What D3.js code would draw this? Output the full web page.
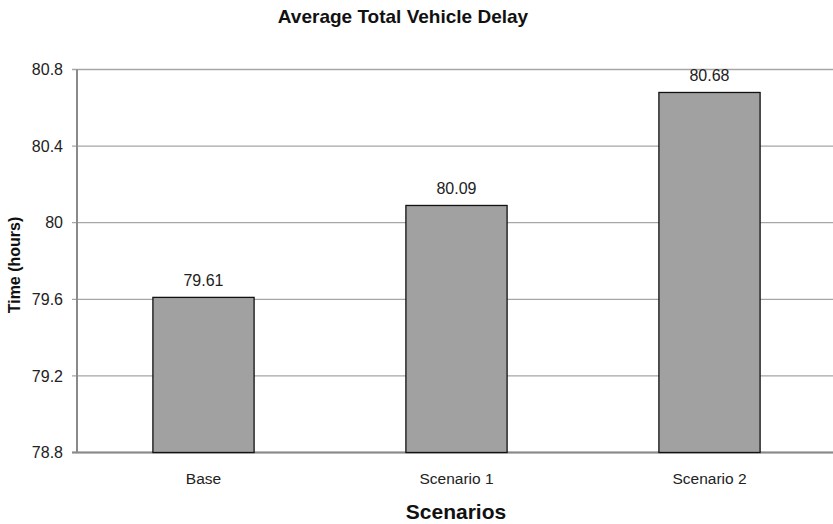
<!DOCTYPE html>
<html><head><meta charset="utf-8">
<script src="https://cdn.jsdelivr.net/npm/d3@7"></script>
<style>body{margin:0;background:#fff}svg{display:block}text{font-family:"Liberation Sans",Arial,sans-serif}</style>
</head><body>
<svg id="c" width="833" height="524"></svg>
<script>
const categories = ["Base", "Scenario 1", "Scenario 2"];
const values = [79.61, 80.09, 80.68];
const yTicks = [78.8, 79.2, 79.6, 80, 80.4, 80.8];
const yTickLabels = ["78.8", "79.2", "79.6", "80", "80.4", "80.8"];

(function () {
const svg = d3.select("#c");
const pLeft = 77, pRight = 836, pTop = 69.5, pBottom = 452.5;
const x = d3.scaleBand().domain(categories).range([pLeft, pRight]).padding(0);
const y = d3.scaleLinear().domain([78.8, 80.8]).range([pBottom, pTop]);

svg.append("g").selectAll("line").data(yTicks).join("line")
  .attr("x1", pLeft - 5).attr("x2", 833)
  .attr("y1", d => y(d)).attr("y2", d => y(d))
  .attr("stroke", "#a6a6a6").attr("stroke-width", 1.3);

svg.append("line").attr("x1", pLeft).attr("x2", pLeft).attr("y1", pTop).attr("y2", pBottom)
  .attr("stroke", "#8a8a8a").attr("stroke-width", 2);
svg.append("line").attr("x1", pLeft - 5).attr("x2", 833).attr("y1", pBottom).attr("y2", pBottom)
  .attr("stroke", "#8a8a8a").attr("stroke-width", 2);

svg.append("g").selectAll("text").data(yTicks).join("text")
  .attr("x", 63).attr("y", d => y(d)).attr("dy", "0.35em")
  .attr("text-anchor", "end").attr("font-size", 16).attr("fill", "#222")
  .text((d, i) => yTickLabels[i]);

const bw = x.bandwidth() * 0.4;
svg.append("g").selectAll("rect").data(values).join("rect")
  .attr("x", (d, i) => x(categories[i]) + (x.bandwidth() - bw) / 2)
  .attr("y", d => y(d))
  .attr("width", bw)
  .attr("height", d => pBottom - y(d))
  .attr("fill", "#a1a1a1").attr("stroke", "#111").attr("stroke-width", 1.3);

svg.append("g").selectAll("text").data(values).join("text")
  .attr("x", (d, i) => x(categories[i]) + x.bandwidth() / 2)
  .attr("y", d => y(d) - 11.5)
  .attr("text-anchor", "middle").attr("font-size", 16).attr("fill", "#222")
  .text(d => d.toFixed(2));

svg.append("g").selectAll("text").data(categories).join("text")
  .attr("x", d => x(d) + x.bandwidth() / 2)
  .attr("y", 484)
  .attr("text-anchor", "middle").attr("font-size", 15.5).attr("fill", "#222")
  .text(d => d);

svg.append("text").attr("x", 403).attr("y", 23).attr("text-anchor", "middle")
  .attr("font-size", 19).attr("font-weight", "bold").attr("fill", "#111")
  .text("Average Total Vehicle Delay");

svg.append("text").attr("transform", "translate(20,265) rotate(-90)")
  .attr("text-anchor", "middle").attr("font-size", 16).attr("font-weight", "bold").attr("fill", "#111")
  .text("Time (hours)");
svg.append("text").attr("x", 456).attr("y", 519).attr("text-anchor", "middle")
  .attr("font-size", 21).attr("font-weight", "bold").attr("fill", "#111")
  .text("Scenarios");
})();
</script>
</body></html>
